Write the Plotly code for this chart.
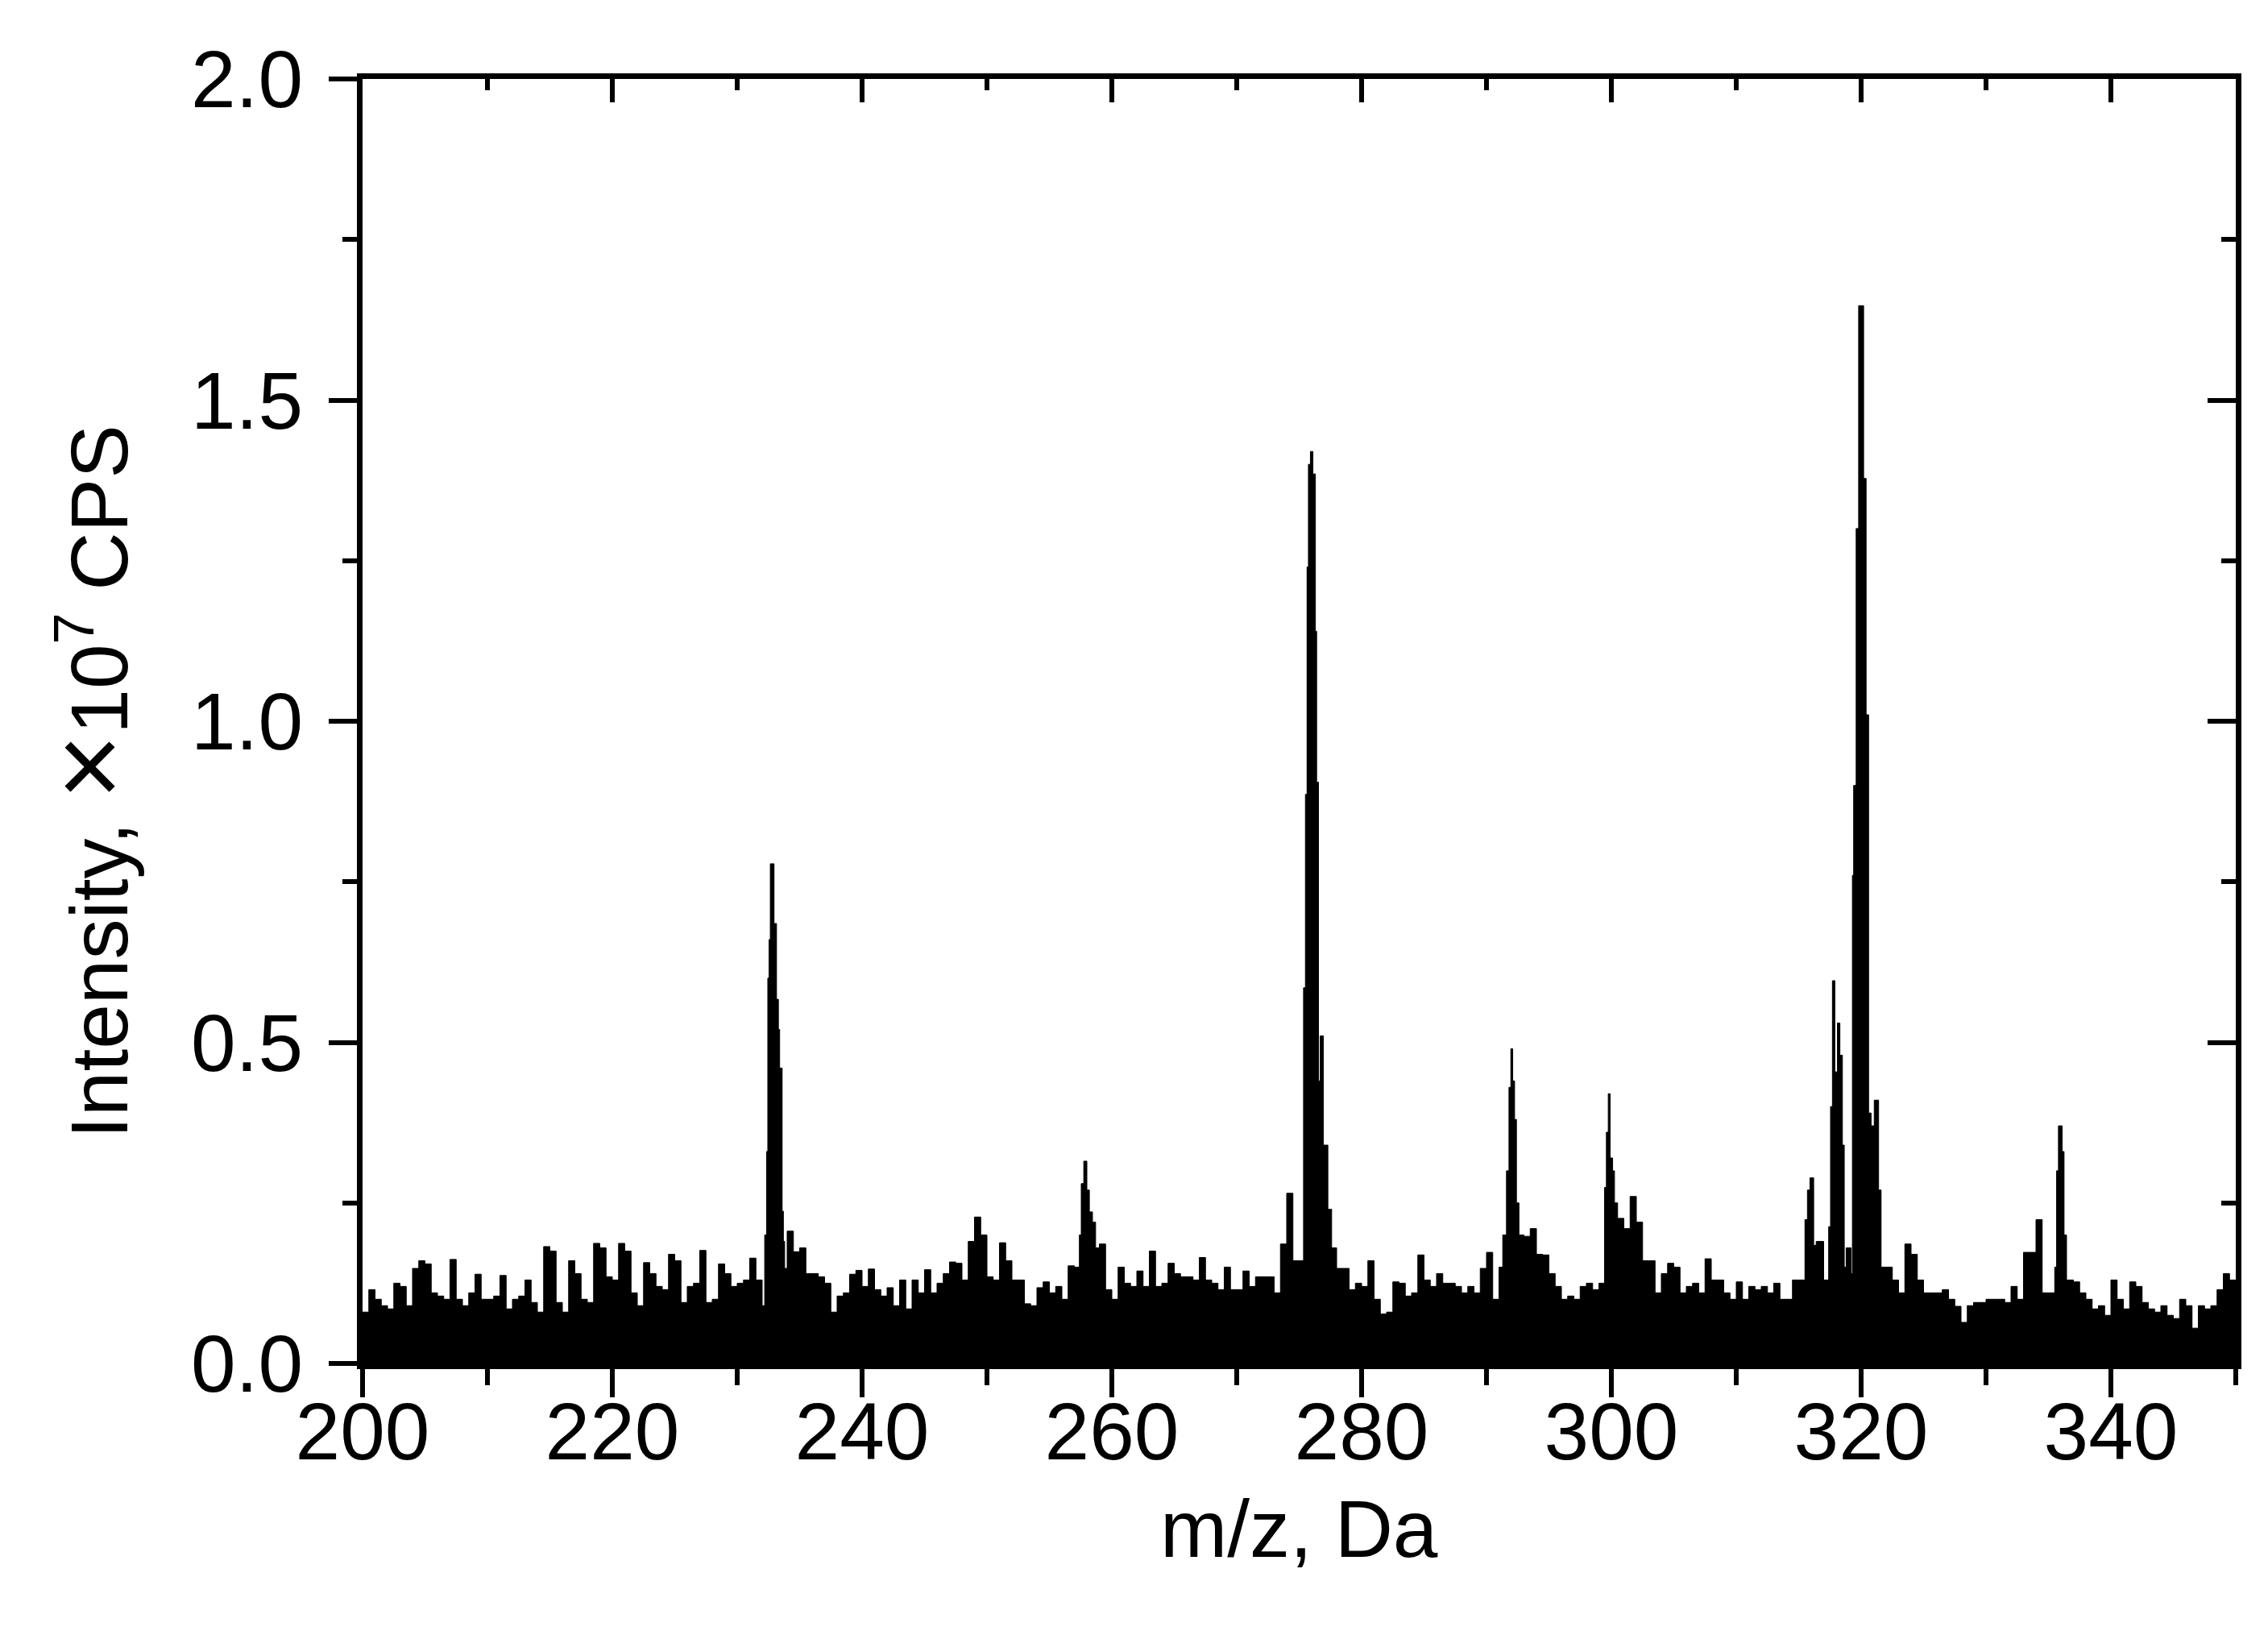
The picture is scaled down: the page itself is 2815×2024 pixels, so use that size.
import plotly.graph_objects as go

# ---------------- data ----------------
# baseline / noise intensities (x10^7 CPS) on a 0.5 Da grid from m/z 200 to 350
noise_mz_start = 200.0
noise_mz_step = 0.5
noise_intensity = [
    # 200 - 209.5
    0.08, 0.115, 0.10, 0.09, 0.085, 0.125, 0.12, 0.09, 0.148, 0.16,
    0.155, 0.11, 0.105, 0.10, 0.162, 0.10, 0.09, 0.11, 0.139, 0.10,
    # 210 - 219.5
    0.10, 0.105, 0.137, 0.085, 0.10, 0.105, 0.13, 0.095, 0.08, 0.182,
    0.175, 0.095, 0.08, 0.16, 0.14, 0.10, 0.095, 0.187, 0.18, 0.135,
    # 220 - 229.5
    0.13, 0.187, 0.175, 0.11, 0.09, 0.157, 0.14, 0.12, 0.115, 0.17,
    0.16, 0.095, 0.12, 0.125, 0.176, 0.095, 0.10, 0.155, 0.14, 0.12,
    # 230 - 239.5
    0.125, 0.13, 0.164, 0.13, 0.09, 0.60, 0.68, 0.30, 0.206, 0.174,
    0.18, 0.14, 0.14, 0.135, 0.125, 0.08, 0.105, 0.11, 0.139, 0.145,
    # 240 - 249.5
    0.12, 0.147, 0.115, 0.105, 0.118, 0.09, 0.13, 0.085, 0.13, 0.11,
    0.146, 0.11, 0.125, 0.14, 0.158, 0.156, 0.13, 0.19, 0.228, 0.20,
    # 250 - 259.5
    0.135, 0.13, 0.188, 0.16, 0.13, 0.13, 0.093, 0.09, 0.118, 0.127,
    0.11, 0.12, 0.10, 0.152, 0.15, 0.28, 0.27, 0.22, 0.186, 0.115,
    # 260 - 269.5
    0.10, 0.15, 0.125, 0.12, 0.144, 0.12, 0.175, 0.12, 0.125, 0.156,
    0.14, 0.135, 0.135, 0.13, 0.165, 0.13, 0.125, 0.115, 0.15, 0.115,
    # 270 - 279.5
    0.115, 0.144, 0.12, 0.135, 0.135, 0.135, 0.11, 0.186, 0.265, 0.16,
    0.16, 1.00, 1.40, 0.90, 0.30, 0.20, 0.148, 0.148, 0.115, 0.125,
    # 280 - 289.5
    0.12, 0.16, 0.10, 0.077, 0.08, 0.127, 0.125, 0.105, 0.11, 0.169,
    0.13, 0.12, 0.14, 0.125, 0.125, 0.12, 0.11, 0.12, 0.11, 0.148,
    # 290 - 299.5
    0.173, 0.10, 0.15, 0.30, 0.49, 0.25, 0.198, 0.21, 0.17, 0.169,
    0.14, 0.12, 0.10, 0.105, 0.10, 0.12, 0.125, 0.115, 0.125, 0.30,
    # 300 - 309.5
    0.30, 0.226, 0.21, 0.26, 0.22, 0.16, 0.16, 0.11, 0.14, 0.156,
    0.15, 0.11, 0.12, 0.125, 0.11, 0.163, 0.13, 0.13, 0.11, 0.10,
    # 310 - 319.5
    0.127, 0.10, 0.12, 0.115, 0.12, 0.11, 0.125, 0.10, 0.10, 0.13,
    0.13, 0.25, 0.25, 0.19, 0.13, 0.40, 0.50, 0.30, 0.20, 1.00,
    # 320 - 329.5
    1.50, 0.50, 0.40, 0.20, 0.15, 0.13, 0.11, 0.186, 0.17, 0.13,
    0.11, 0.11, 0.11, 0.115, 0.10, 0.089, 0.064, 0.09, 0.095, 0.095,
    # 330 - 339.5
    0.10, 0.10, 0.10, 0.095, 0.12, 0.10, 0.173, 0.173, 0.224, 0.11,
    0.11, 0.30, 0.35, 0.13, 0.127, 0.11, 0.10, 0.085, 0.09, 0.075,
    # 340 - 349.5
    0.13, 0.10, 0.085, 0.127, 0.12, 0.095, 0.085, 0.08, 0.09, 0.075,
    0.07, 0.10, 0.09, 0.055, 0.09, 0.085, 0.09, 0.115, 0.14, 0.13,
    # 350
    0.125,
]

# resolved peak profiles (m/z, intensity x10^7 CPS)
peak_233_mz = [232.2, 232.35, 232.45, 232.55, 232.65, 232.95, 233.15, 233.3, 233.4, 233.6, 233.7, 233.8]
peak_233_int = [0.20, 0.33, 0.60, 0.66, 0.778, 0.685, 0.567, 0.52, 0.46, 0.237, 0.19, 0.148]

peak_258_mz = [257.4, 257.55, 257.75, 258.0, 258.2, 258.45, 258.7]
peak_258_int = [0.20, 0.28, 0.315, 0.27, 0.236, 0.22, 0.18]

peak_276_mz = [275.35, 275.5, 275.63, 275.74, 275.9, 276.1, 276.3, 276.4, 276.55, 276.68, 276.94, 277.3, 277.6]
peak_276_int = [0.585, 0.886, 1.24, 1.40, 1.42, 1.385, 1.14, 0.905, 0.44, 0.51, 0.34, 0.24, 0.18]

peak_292_mz = [291.3, 291.6, 291.8, 291.95, 292.1, 292.25, 292.4, 292.6]
peak_292_int = [0.20, 0.30, 0.43, 0.49, 0.44, 0.38, 0.25, 0.20]

peak_300_mz = [299.45, 299.6, 299.75, 299.9, 300.1, 300.25]
peak_300_int = [0.274, 0.36, 0.42, 0.32, 0.30, 0.25]

peak_316_mz = [315.5, 315.7, 315.9, 316.2, 316.4]
peak_316_int = [0.224, 0.27, 0.289, 0.184, 0.19]

peak_320_mz = [317.4, 317.55, 317.7, 317.9, 318.1, 318.3, 318.5, 318.65, 318.8,
               319.2, 319.3, 319.4, 319.6, 319.8, 320.2, 320.4, 320.6, 320.8, 321.05, 321.4, 321.6]
peak_320_int = [0.213, 0.40, 0.596, 0.454, 0.53, 0.48, 0.34, 0.15, 0.18,
                0.14, 0.76, 0.90, 1.30, 1.647, 1.378, 1.01, 0.39, 0.37, 0.41, 0.27, 0.15]

peak_336_mz = [335.5, 335.65, 335.8, 336.1, 336.25, 336.45]
peak_336_int = [0.15, 0.30, 0.37, 0.33, 0.20, 0.13]

x_major_ticks = [200, 220, 240, 260, 280, 300, 320, 340]
y_major_ticks = [0.0, 0.5, 1.0, 1.5, 2.0]
y_tick_labels = ["0.0", "0.5", "1.0", "1.5", "2.0"]

x_title = "m/z, Da"
y_title = ("Intensity, <span style='font-size:140px;font-weight:100'>×</span>"
           "10<sup>7</sup> CPS")

# ---------------- assemble spectrum ----------------
peaks = [
    (peak_233_mz, peak_233_int), (peak_258_mz, peak_258_int),
    (peak_276_mz, peak_276_int), (peak_292_mz, peak_292_int),
    (peak_300_mz, peak_300_int), (peak_316_mz, peak_316_int),
    (peak_320_mz, peak_320_int), (peak_336_mz, peak_336_int),
]
points = []
for i, v in enumerate(noise_intensity):
    mz = noise_mz_start + i * noise_mz_step
    if any(pm[0] <= mz <= pm[-1] for pm, _ in peaks):
        continue
    points.append((mz, v))
for pm, pv in peaks:
    points.extend(zip(pm, pv))
points.sort()
spec_x = [p[0] for p in points]
spec_y = [p[1] for p in points]

# ---------------- figure ----------------
FONT = "Liberation Sans, Arial, Helvetica, sans-serif"
W, H = 2815, 2024
L, R, T, B = 442, 48, 90, 340

fig = go.Figure()
fig.add_trace(go.Scatter(
    x=spec_x, y=spec_y, mode="lines", line=dict(color="black", width=1, shape="hv"),
    fill="tozeroy", fillcolor="black", showlegend=False, hoverinfo="skip",
))
fig.add_trace(go.Scatter(x=[200, 350], y=[0, 0], xaxis="x2", yaxis="y2", mode="lines",
                         line=dict(width=0), showlegend=False, hoverinfo="skip"))

axis_common = dict(showgrid=False, zeroline=False, showline=True, linecolor="black",
                   linewidth=7, tickcolor="black", tickwidth=6)

fig.update_layout(
    width=W, height=H,
    margin=dict(l=L, r=R, t=T, b=B),
    paper_bgcolor="white", plot_bgcolor="white",
    font=dict(family=FONT, size=100, color="black"),
    xaxis=dict(range=[200, 350], tickmode="array", tickvals=x_major_ticks,
               ticks="outside", ticklen=35, ticklabelstandoff=-43,
               tickfont=dict(family=FONT, size=100, color="black"),
               minor=dict(tickmode="linear", tick0=200, dtick=10, ticks="outside",
                          ticklen=20, tickwidth=6, tickcolor="black"),
               **axis_common),
    yaxis=dict(range=[0, 2.0], tickmode="array", tickvals=y_major_ticks, ticktext=y_tick_labels,
               ticks="outside", ticklen=35, ticklabelstandoff=12,
               tickfont=dict(family=FONT, size=100, color="black"),
               minor=dict(tickmode="linear", tick0=0, dtick=0.25, ticks="outside",
                          ticklen=18, tickwidth=6, tickcolor="black"),
               **axis_common),
    xaxis2=dict(range=[200, 350], overlaying="x", side="top", anchor="y2",
                tickmode="array", tickvals=x_major_ticks, ticks="inside", ticklen=29,
                showticklabels=False,
                minor=dict(tickmode="linear", tick0=200, dtick=10, ticks="inside",
                           ticklen=14, tickwidth=6, tickcolor="black"),
                **axis_common),
    yaxis2=dict(range=[0, 2.0], overlaying="y", side="right", anchor="x2",
                tickmode="array", tickvals=y_major_ticks, ticks="inside", ticklen=35,
                showticklabels=False,
                minor=dict(tickmode="linear", tick0=0, dtick=0.25, ticks="inside",
                           ticklen=18, tickwidth=6, tickcolor="black"),
                **axis_common),
    annotations=[
        dict(text=x_title, xref="paper", yref="paper", x=0.5, y=(1684 - 1889) / 1594,
             xanchor="center", yanchor="middle", showarrow=False,
             font=dict(family=FONT, size=100, color="black")),
        dict(text=y_title, xref="paper", yref="paper", x=(102 - 442) / 2325,
             y=(1684 - 962) / 1594, xanchor="center", yanchor="middle", textangle=-90,
             showarrow=False, font=dict(family=FONT, size=100, color="black")),
    ],
)

fig.write_html("out.html")
